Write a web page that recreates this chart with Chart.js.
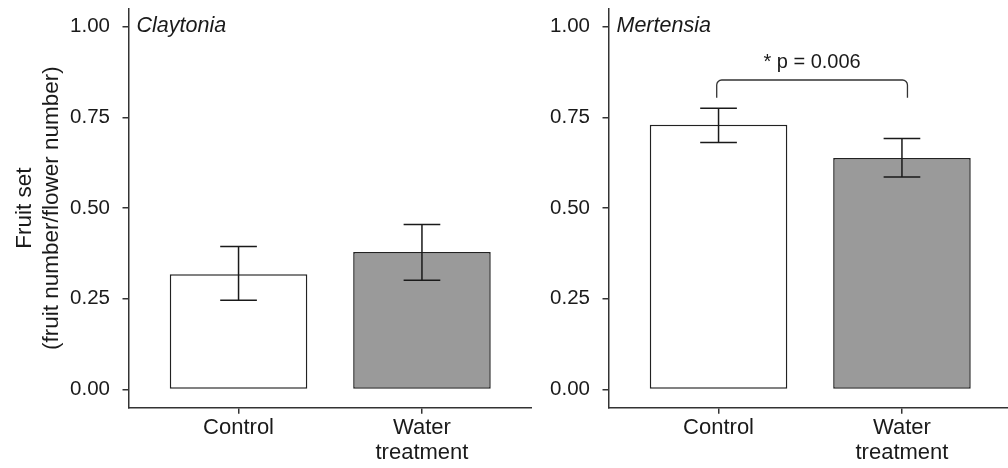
<!DOCTYPE html>
<html>
<head>
<meta charset="utf-8">
<script src="https://cdn.jsdelivr.net/npm/chart.js@4.4.1/dist/chart.umd.min.js"></script>
<style>
  html, body { margin: 0; padding: 0; background: #fff; overflow: hidden; }
  #wrap { position: relative; width: 1008px; height: 468px; overflow: hidden; }
  canvas { position: absolute; top: 0; }
  #claytonia { left: 0; }
  #mertensia { left: 480px; }
</style>
</head>
<body>
<div id="wrap">
  <canvas id="claytonia" width="532" height="468"></canvas>
  <canvas id="mertensia" width="532" height="468"></canvas>
</div>
<script>
// treatment groups, placed at x = 1 and x = 2 on a linear axis
const groups = [['Control'], ['Water', 'treatment']];
const groupPos = [1, 2];
const yTicks = [0, 0.25, 0.5, 0.75, 1];

// Claytonia fruit set: means and error bar ends
const claytoniaMean = [0.318, 0.379];
const claytoniaLow = [0.246, 0.301];
const claytoniaHigh = [0.394, 0.455];

// Mertensia fruit set
const mertensiaMean = [0.730, 0.638];
const mertensiaLow = [0.681, 0.586];
const mertensiaHigh = [0.775, 0.692];

// significance bracket over the Mertensia bars
const bracketX = [0.99, 2.03];
const bracketY = [0.804, 0.853];
const pLabel = '* p = 0.006';
const pLabelPos = [1.51, 0.885];

const ink = '#1a1a1a';
const family = '"Liberation Sans", Arial, Helvetica, sans-serif';

// whiskers, species name and the p-value bracket
const panelExtras = {
    id: 'panelExtras',
    afterDatasetsDraw(chart, args, opts) {
        const ctx = chart.ctx;
        const xs = chart.scales.x;
        const ys = chart.scales.y;
        ctx.save();
        ctx.strokeStyle = ink;
        ctx.lineWidth = 1.5;
        opts.low.forEach((lo, i) => {
            const px = xs.getPixelForValue(groupPos[i]);
            const cl = xs.getPixelForValue(groupPos[i] - 0.1);
            const cr = xs.getPixelForValue(groupPos[i] + 0.1);
            const yLo = ys.getPixelForValue(lo);
            const yHi = ys.getPixelForValue(opts.high[i]);
            ctx.beginPath();
            ctx.moveTo(px, yLo); ctx.lineTo(px, yHi);
            ctx.moveTo(cl, yLo); ctx.lineTo(cr, yLo);
            ctx.moveTo(cl, yHi); ctx.lineTo(cr, yHi);
            ctx.stroke();
        });

        ctx.fillStyle = ink;
        ctx.font = 'italic 21.5px ' + family;
        ctx.textBaseline = 'alphabetic';
        ctx.textAlign = 'left';
        ctx.fillText(opts.species, chart.chartArea.left + 8, 32);

        if (opts.bracket) {
            const xl = xs.getPixelForValue(bracketX[0]);
            const xr = xs.getPixelForValue(bracketX[1]);
            const yb = ys.getPixelForValue(bracketY[0]);
            const yt = ys.getPixelForValue(bracketY[1]);
            const r = 5;
            ctx.lineWidth = 1.3;
            ctx.strokeStyle = '#333';
            ctx.beginPath();
            ctx.moveTo(xl, yb);
            ctx.lineTo(xl, yt + r);
            ctx.arcTo(xl, yt, xl + r, yt, r);
            ctx.lineTo(xr - r, yt);
            ctx.arcTo(xr, yt, xr, yt + r, r);
            ctx.lineTo(xr, yb);
            ctx.stroke();

            ctx.font = '20px ' + family;
            ctx.textAlign = 'center';
            ctx.fillText(pLabel, xs.getPixelForValue(pLabelPos[0]), ys.getPixelForValue(pLabelPos[1]));
        }
        ctx.restore();
    }
};

function makePanel(canvasId, means, low, high, species, showTitle, bracket) {
    return new Chart(document.getElementById(canvasId), {
        type: 'bar',
        data: {
            datasets: [{
                data: groupPos.map((p, i) => ({ x: p, y: means[i] })),
                backgroundColor: ['#ffffff', '#9a9a9a'],
                borderColor: '#222',
                borderWidth: 1.5,
                borderSkipped: false,
                barPercentage: 0.75,
                categoryPercentage: 1
            }]
        },
        options: {
            responsive: false,
            maintainAspectRatio: false,
            devicePixelRatio: 1,
            animation: false,
            layout: { padding: { top: 8.5, left: 0, right: 0, bottom: 0 } },
            plugins: {
                legend: { display: false },
                tooltip: { enabled: false },
                panelExtras: { low: low, high: high, species: species, bracket: bracket }
            },
            scales: {
                x: {
                    type: 'linear',
                    min: 0.4,
                    max: 2.6,
                    offset: false,
                    afterBuildTicks: axis => { axis.ticks = groupPos.map(v => ({ value: v })); },
                    afterFit: axis => {
                        axis.height = 60.3;
                        axis.paddingLeft = 0;
                        axis.paddingRight = 0;
                    },
                    border: { display: true, color: '#333', width: 1.5 },
                    grid: { display: true, offset: false, drawOnChartArea: false, drawTicks: true, tickLength: 6, color: '#333', lineWidth: 1.5 },
                    ticks: {
                        autoSkip: false,
                        maxRotation: 0,
                        padding: 2,
                        color: ink,
                        font: { family: family, size: 22, lineHeight: 1.12 },
                        callback: (v, i) => groups[i]
                    }
                },
                y: {
                    min: -0.05,
                    max: 1.05,
                    afterBuildTicks: axis => { axis.ticks = yTicks.map(v => ({ value: v })); },
                    afterFit: axis => {
                        axis.width = 128.5;
                        axis.paddingTop = 0;
                        axis.paddingBottom = 0;
                    },
                    border: { display: true, color: '#333', width: 1.5 },
                    grid: { display: true, drawOnChartArea: false, drawTicks: true, tickLength: 6, color: '#333', lineWidth: 1.5 },
                    ticks: {
                        padding: 12.5,
                        color: ink,
                        font: { family: family, size: 20.5 },
                        callback: v => v.toFixed(2)
                    },
                    title: {
                        display: showTitle,
                        text: ['Fruit set', '(fruit number/flower number)'],
                        color: ink,
                        font: { family: family, size: 22.5, lineHeight: 1.2 },
                        padding: { top: 11.5, bottom: 0 }
                    }
                }
            }
        },
        plugins: [panelExtras]
    });
}

makePanel('claytonia', claytoniaMean, claytoniaLow, claytoniaHigh, 'Claytonia', true, false);
makePanel('mertensia', mertensiaMean, mertensiaLow, mertensiaHigh, 'Mertensia', false, true);
</script>
</body>
</html>
